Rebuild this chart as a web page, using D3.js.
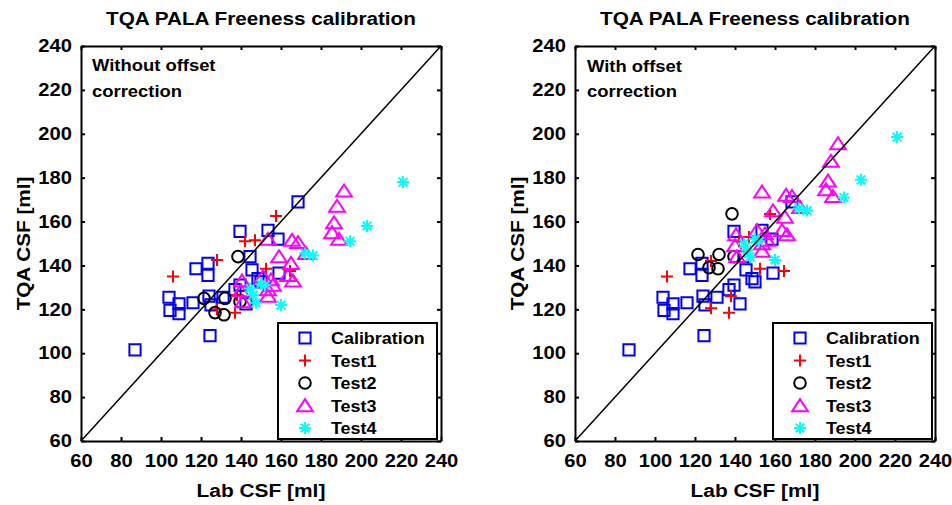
<!DOCTYPE html>
<html>
<head>
<meta charset="utf-8">
<script src="https://cdn.jsdelivr.net/npm/d3@7"></script>
<style>
  body { margin: 0; background: #fff; }
  text { font-family: "Liberation Sans", Arial, sans-serif; font-weight: bold; }
</style>
</head>
<body>
<svg id="chart" width="952" height="505"></svg>
<script>
// axis ticks, same for both panels
const xTicks = [60, 80, 100, 120, 140, 160, 180, 200, 220, 240];
const yTicks = [60, 80, 100, 120, 140, 160, 180, 200, 220, 240];
const diag = [60, 240];

const seriesNames = ["Calibration", "Test1", "Test2", "Test3", "Test4"];

// Lab CSF (x) is shared, TQA CSF differs: raw (left) and offset corrected (right)
const calX = [87, 104, 104.5, 109, 109, 116, 117.5, 123.5, 123.5, 124, 125, 124.5, 131, 137, 139.5, 142.5, 139.5, 144.5, 145.5, 148.5, 150, 153.5, 158.5, 159, 168.5];
const calY = [101.5, 125.5, 119.5, 122.5, 118, 123, 138.5, 141, 135.5, 126, 122, 108, 125.5, 129, 131, 122.5, 155.5, 144, 138, 134, 132.5, 156, 152, 136.5, 169];

const t1X    = [106, 128, 128, 137, 138, 142, 147, 152.5, 157.5, 164.5];
const t1Raw  = [135, 142.5, 120, 118.5, 126.5, 151, 151.5, 138.5, 162.5, 137.5];
const t1Corr = [135, 142, 120.5, 118.5, 126, 151, 153, 138.5, 163.5, 137.5];

const t2X    = [121.5, 127, 131.5, 132, 139.5, 138.5];
const t2Raw  = [125, 118.5, 117.5, 125, 123.5, 144];
const t2Corr = [145, 139, 138.5, 145, 144, 163.5];

const t3X    = [191.5, 188, 186.5, 185.5, 189, 153.5, 165.5, 168.5, 172.5, 159, 165, 163.5, 166, 155, 151, 140.5, 140, 153.5, 156, 153.5, 141];
const t3Raw  = [174, 167, 159.5, 155, 152, 152, 151.5, 150.5, 145.5, 144, 141, 135.5, 133, 133.5, 135, 133, 128.5, 129, 131, 126, 123.5];
const t3Corr = [195.5, 187.5, 178.5, 174.5, 171.5, 173.5, 172, 171.5, 166.5, 165, 162, 156, 154, 154.5, 156, 154, 149, 150, 151.5, 146.5, 144];

const t4X    = [221, 203, 194.5, 172, 176, 160, 144.5, 150, 147.5, 152, 146];
const t4Raw  = [178, 158, 151, 145.5, 144.5, 122, 129.5, 131.5, 123, 131, 126.5];
const t4Corr = [198.5, 179, 171, 166, 165, 142.5, 150, 152, 144, 151, 147];

// marker shapes, matlab style
const sq   = { draw(c, r) { c.rect(-r, -r, 2 * r, 2 * r); } };
const plus = { draw(c, r) { c.moveTo(-r, 0); c.lineTo(r, 0); c.moveTo(0, -r); c.lineTo(0, r); } };
const circ = { draw(c, r) { c.moveTo(r, 0); c.arc(0, 0, r, 0, 2 * Math.PI); } };
const tri  = { draw(c, r) { c.moveTo(0, -r * 0.85); c.lineTo(r * 1.05, r * 0.75); c.lineTo(-r * 1.05, r * 0.75); c.closePath(); } };
const star = { draw(c, r) {
    const d = r * 0.72;
    c.moveTo(-r, 0); c.lineTo(r, 0); c.moveTo(0, -r); c.lineTo(0, r);
    c.moveTo(-d, -d); c.lineTo(d, d); c.moveTo(-d, d); c.lineTo(d, -d);
} };

const styles = [
    { sym: sq,   r: 5.6, color: "#0000ff" },
    { sym: plus, r: 6,   color: "#ff0000" },
    { sym: circ, r: 5.8, color: "#000000" },
    { sym: tri,  r: 7.5, color: "#ff00ff" },
    { sym: star, r: 6,   color: "#00ffff" }
];

const panels = [
    { x0: 81, x1: 441, note: ["Without offset", "correction"], noteX: 92, noteY: [71, 97], ylabX: 30,
      xs: [calX, t1X, t2X, t3X, t4X], ys: [calY, t1Raw, t2Raw, t3Raw, t4Raw], legX: 278 },
    { x0: 575, x1: 935, note: ["With offset", "correction"], noteX: 587, noteY: [72, 97], ylabX: 524,
      xs: [calX, t1X, t2X, t3X, t4X], ys: [calY, t1Corr, t2Corr, t3Corr, t4Corr], legX: 773 }
];
const yTop = 46, yBottom = 441;

const svg = d3.select("#chart");

// text in the picture is a bit wider than Arial bold
function widen(sel, k) {
    sel.each(function () {
        const w = this.getComputedTextLength();
        d3.select(this).attr("textLength", w * k).attr("lengthAdjust", "spacingAndGlyphs");
    });
}

function styleAxis(g, labels) {
    g.selectAll("path.domain").attr("stroke", "#000").attr("stroke-width", 2);
    g.selectAll(".tick line").attr("stroke", "#000").attr("stroke-width", 2);
    g.selectAll(".tick text")
        .attr("fill", "#000")
        .attr("font-size", 18)
        .attr("font-family", '"Liberation Sans", Arial, sans-serif')
        .attr("font-weight", "bold");
    if (labels) widen(g.selectAll(".tick text"), 1.12);
}

panels.forEach(p => {
    const x = d3.scaleLinear([60, 240], [p.x0, p.x1]);
    const y = d3.scaleLinear([60, 240], [yBottom, yTop]);
    const g = svg.append("g");

    // markers
    seriesNames.forEach((name, i) => {
        const st = styles[i];
        const pts = p.xs[i].map((v, j) => [v, p.ys[i][j]]);
        g.append("g").selectAll("path")
            .data(pts)
            .enter()
            .append("path")
            .attr("d", d3.symbol(st.sym, st.r))
            .attr("transform", d => `translate(${x(d[0])},${y(d[1])})`)
            .attr("fill", "none")
            .attr("stroke", st.color)
            .attr("stroke-width", 2);
    });

    // 1:1 line
    g.append("path")
        .attr("d", d3.line().x(d => x(d)).y(d => y(d))(diag))
        .attr("stroke", "#000")
        .attr("stroke-width", 1.5)
        .attr("fill", "none");

    // box axes with inward ticks
    g.append("g").attr("transform", `translate(0,${yBottom})`)
        .call(d3.axisBottom(x).tickValues(xTicks).tickSizeInner(-4).tickSizeOuter(0).tickPadding(13))
        .call(a => styleAxis(a, true));
    g.append("g").attr("transform", `translate(${p.x0},0)`)
        .call(d3.axisLeft(y).tickValues(yTicks).tickSizeInner(-4).tickSizeOuter(0).tickPadding(9))
        .call(a => styleAxis(a, true));
    g.append("g").attr("transform", `translate(0,${yTop})`)
        .call(d3.axisTop(x).tickValues(xTicks).tickSizeInner(-4).tickSizeOuter(0).tickFormat(() => ""))
        .call(a => styleAxis(a, false));
    g.append("g").attr("transform", `translate(${p.x1},0)`)
        .call(d3.axisRight(y).tickValues(yTicks).tickSizeInner(-4).tickSizeOuter(0).tickFormat(() => ""))
        .call(a => styleAxis(a, false));

    const cx = (p.x0 + p.x1) / 2;
    g.append("text").attr("x", cx).attr("y", 25).attr("text-anchor", "middle")
        .attr("font-size", 18).text("TQA PALA Freeness calibration").call(widen, 1.15);
    g.append("text").attr("x", cx).attr("y", 497).attr("text-anchor", "middle")
        .attr("font-size", 18).text("Lab CSF [ml]").call(widen, 1.16);
    g.append("text").attr("transform", `translate(${p.ylabX},${(yTop + yBottom) / 2}) rotate(-90)`)
        .attr("text-anchor", "middle").attr("font-size", 18).text("TQA CSF [ml]").call(widen, 1.15);

    p.note.forEach((t, k) => {
        g.append("text").attr("x", p.noteX).attr("y", p.noteY[k])
            .attr("font-size", 16).text(t).call(widen, 1.15);
    });

    // legend
    const leg = g.append("g").attr("transform", `translate(${p.legX},323)`);
    leg.append("rect").attr("width", 159).attr("height", 116)
        .attr("fill", "#fff").attr("stroke", "#000").attr("stroke-width", 2);
    seriesNames.forEach((name, i) => {
        const st = styles[i];
        const ry = 15 + i * 22.5;
        leg.append("path")
            .attr("d", d3.symbol(st.sym, st.r))
            .attr("transform", `translate(27,${ry})`)
            .attr("fill", "none").attr("stroke", st.color).attr("stroke-width", 2);
        leg.append("text").attr("x", 53).attr("y", ry + 6)
            .attr("font-size", 16).text(name).call(widen, 1.12);
    });
});
</script>
</body>
</html>
